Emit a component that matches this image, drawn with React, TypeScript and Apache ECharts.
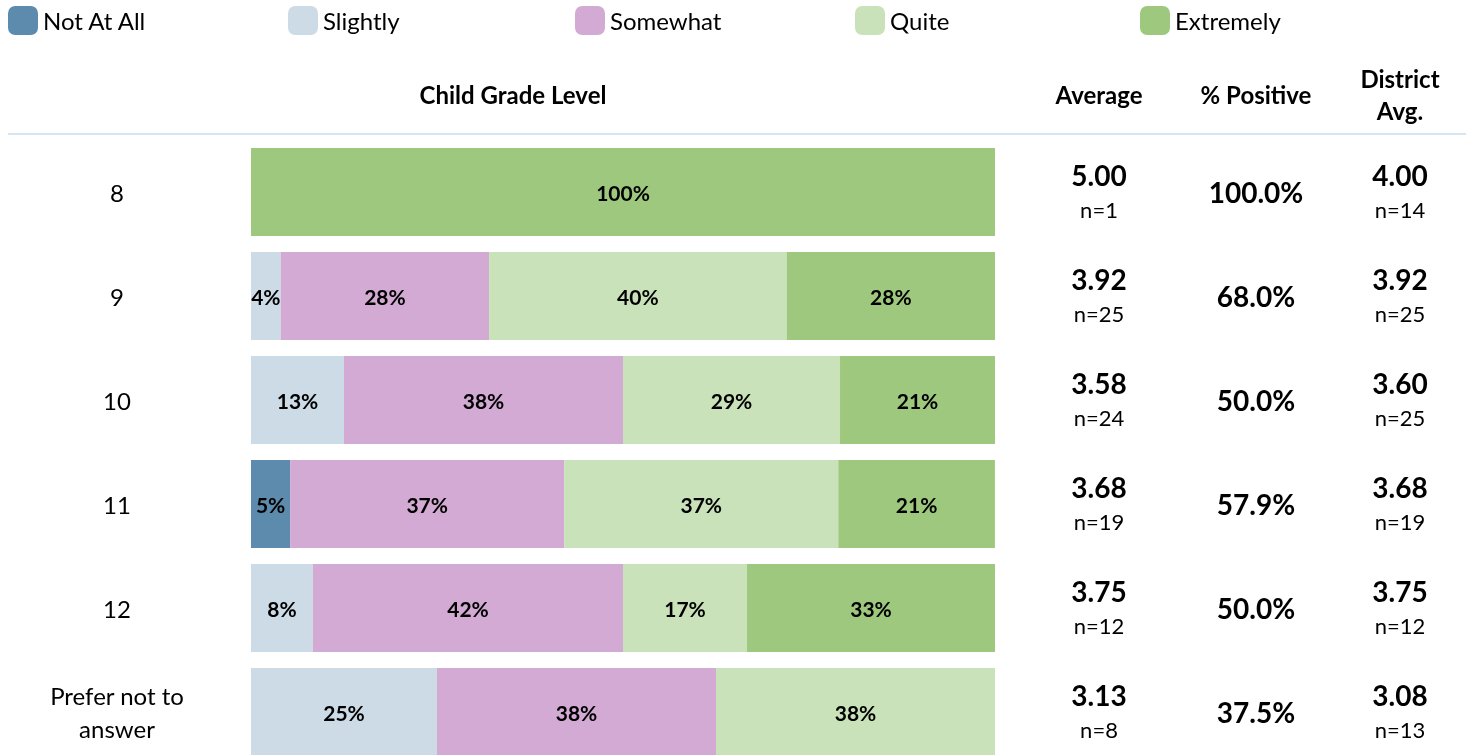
import React, { useEffect, useRef } from "react";
import * as echarts from "echarts";

const categories = ["8", "9", "10", "11", "12", "Prefer not to\nanswer"];
const levels = ["Not At All", "Slightly", "Somewhat", "Quite", "Extremely"];
const notAtAll = [0, 0, 0, 5.26, 0, 0];
const slightly = [0, 4, 12.5, 0, 8.33, 25];
const somewhat = [0, 28, 37.5, 36.84, 41.67, 37.5];
const quite = [0, 40, 29.17, 36.84, 16.67, 37.5];
const extremely = [100, 28, 20.83, 21.05, 33.33, 0];
const average = [5.0, 3.92, 3.58, 3.68, 3.75, 3.13];
const averageN = [1, 25, 24, 19, 12, 8];
const pctPositive = [100.0, 68.0, 50.0, 57.9, 50.0, 37.5];
const districtAvg = [4.0, 3.92, 3.6, 3.68, 3.75, 3.08];
const districtN = [14, 25, 25, 19, 12, 13];

const colors = ["#5d8bae", "#cddbe6", "#d2aad3", "#c9e2b9", "#9dc87d"];
const FONT = "Lato, 'Noto Sans', sans-serif";
const COL_AVG = 1099;
const COL_POS = 1256;
const COL_DIST = 1400;
const LEGEND_LEFT = [8, 288, 575, 855, 1140];

export default function App() {
  const ref = useRef<HTMLDivElement>(null);
  useEffect(() => {
    if (!ref.current) return;
    const chart = echarts.init(ref.current, undefined, { renderer: "svg" });
    const seriesData = [notAtAll, slightly, somewhat, quite, extremely];
    const barSeries = levels.map((name, k) => ({
      name,
      type: "bar",
      stack: "total",
      xAxisIndex: 0,
      yAxisIndex: 0,
      barWidth: 88,
      itemStyle: { color: colors[k] },
      label: {
        show: true,
        position: "inside",
        fontFamily: FONT,
        fontWeight: "bold",
        fontSize: 21,
        color: "#000",
        formatter: (p: any) => (p.value > 0 ? Math.round(p.value) + "%" : ""),
      },
      data: seriesData[k],
    }));
    const textCol = (x: number, fmt: (i: number) => string) => ({
      type: "scatter",
      xAxisIndex: 1,
      yAxisIndex: 1,
      symbolSize: 0,
      silent: true,
      itemStyle: { opacity: 1 },
      data: categories.map((_, i) => [x, i]),
      label: {
        show: true,
        position: "inside",
        color: "#000",
        fontFamily: FONT,
        formatter: (p: any) => fmt(p.dataIndex),
        rich: {
          v: { fontSize: 28, fontWeight: "bold", fontFamily: FONT, color: "#000", lineHeight: 34 },
          n: { fontSize: 22, fontFamily: FONT, color: "#000", lineHeight: 34 },
          p: { fontSize: 28, fontWeight: "bold", fontFamily: FONT, color: "#000" },
        },
      },
    });
    chart.setOption({
      animation: false,
      legend: levels.map((name, k) => ({
        data: [name],
        left: LEGEND_LEFT[k],
        top: 6,
        padding: 0,
        itemWidth: 30,
        itemHeight: 29,
        icon: "roundRect",
        selectedMode: false,
        textStyle: { fontFamily: FONT, fontSize: 24, color: "#000" },
      })),
      grid: [
        { left: 251, width: 744, top: 140, height: 624 },
        { left: 0, width: 1475, top: 140, height: 624 },
      ],
      xAxis: [
        { type: "value", gridIndex: 0, min: 0, max: 100, show: false },
        { type: "value", gridIndex: 1, min: 0, max: 1475, show: false },
      ],
      yAxis: [
        {
          type: "category",
          gridIndex: 0,
          inverse: true,
          data: categories,
          axisLine: { show: false },
          axisTick: { show: false },
          axisLabel: {
            align: "center",
            margin: 134,
            fontFamily: FONT,
            fontSize: 24,
            color: "#000",
            lineHeight: 33,
          },
        },
        { type: "category", gridIndex: 1, inverse: true, data: categories, show: false },
      ],
      graphic: [
        {
          type: "line",
          shape: { x1: 8, y1: 134, x2: 1466, y2: 134 },
          style: { stroke: "#c9dcec", lineWidth: 1.5 },
        },
        {
          type: "text",
          x: 513,
          y: 94,
          style: { text: "Child Grade Level", fontFamily: FONT, fontSize: 24, fontWeight: "bold", fill: "#000", align: "center", verticalAlign: "middle" },
        },
        {
          type: "text",
          x: COL_AVG,
          y: 94,
          style: { text: "Average", fontFamily: FONT, fontSize: 24, fontWeight: "bold", fill: "#000", align: "center", verticalAlign: "middle" },
        },
        {
          type: "text",
          x: COL_POS,
          y: 94,
          style: { text: "% Positive", fontFamily: FONT, fontSize: 24, fontWeight: "bold", fill: "#000", align: "center", verticalAlign: "middle" },
        },
        {
          type: "text",
          x: COL_DIST,
          y: 94,
          style: { text: "District\nAvg.", fontFamily: FONT, fontSize: 24, fontWeight: "bold", fill: "#000", align: "center", verticalAlign: "middle", lineHeight: 32 },
        },
      ],
      series: [
        ...barSeries,
        textCol(COL_AVG, (i) => `{v|${average[i].toFixed(2)}}\n{n|n=${averageN[i]}}`),
        textCol(COL_POS, (i) => `{p|${pctPositive[i].toFixed(1)}%}`),
        textCol(COL_DIST, (i) => `{v|${districtAvg[i].toFixed(2)}}\n{n|n=${districtN[i]}}`),
      ],
    });
    return () => chart.dispose();
  }, []);
  return <div ref={ref} style={{ position: "fixed", left: 0, top: 0, width: 1475, height: 800 }} />;
}
